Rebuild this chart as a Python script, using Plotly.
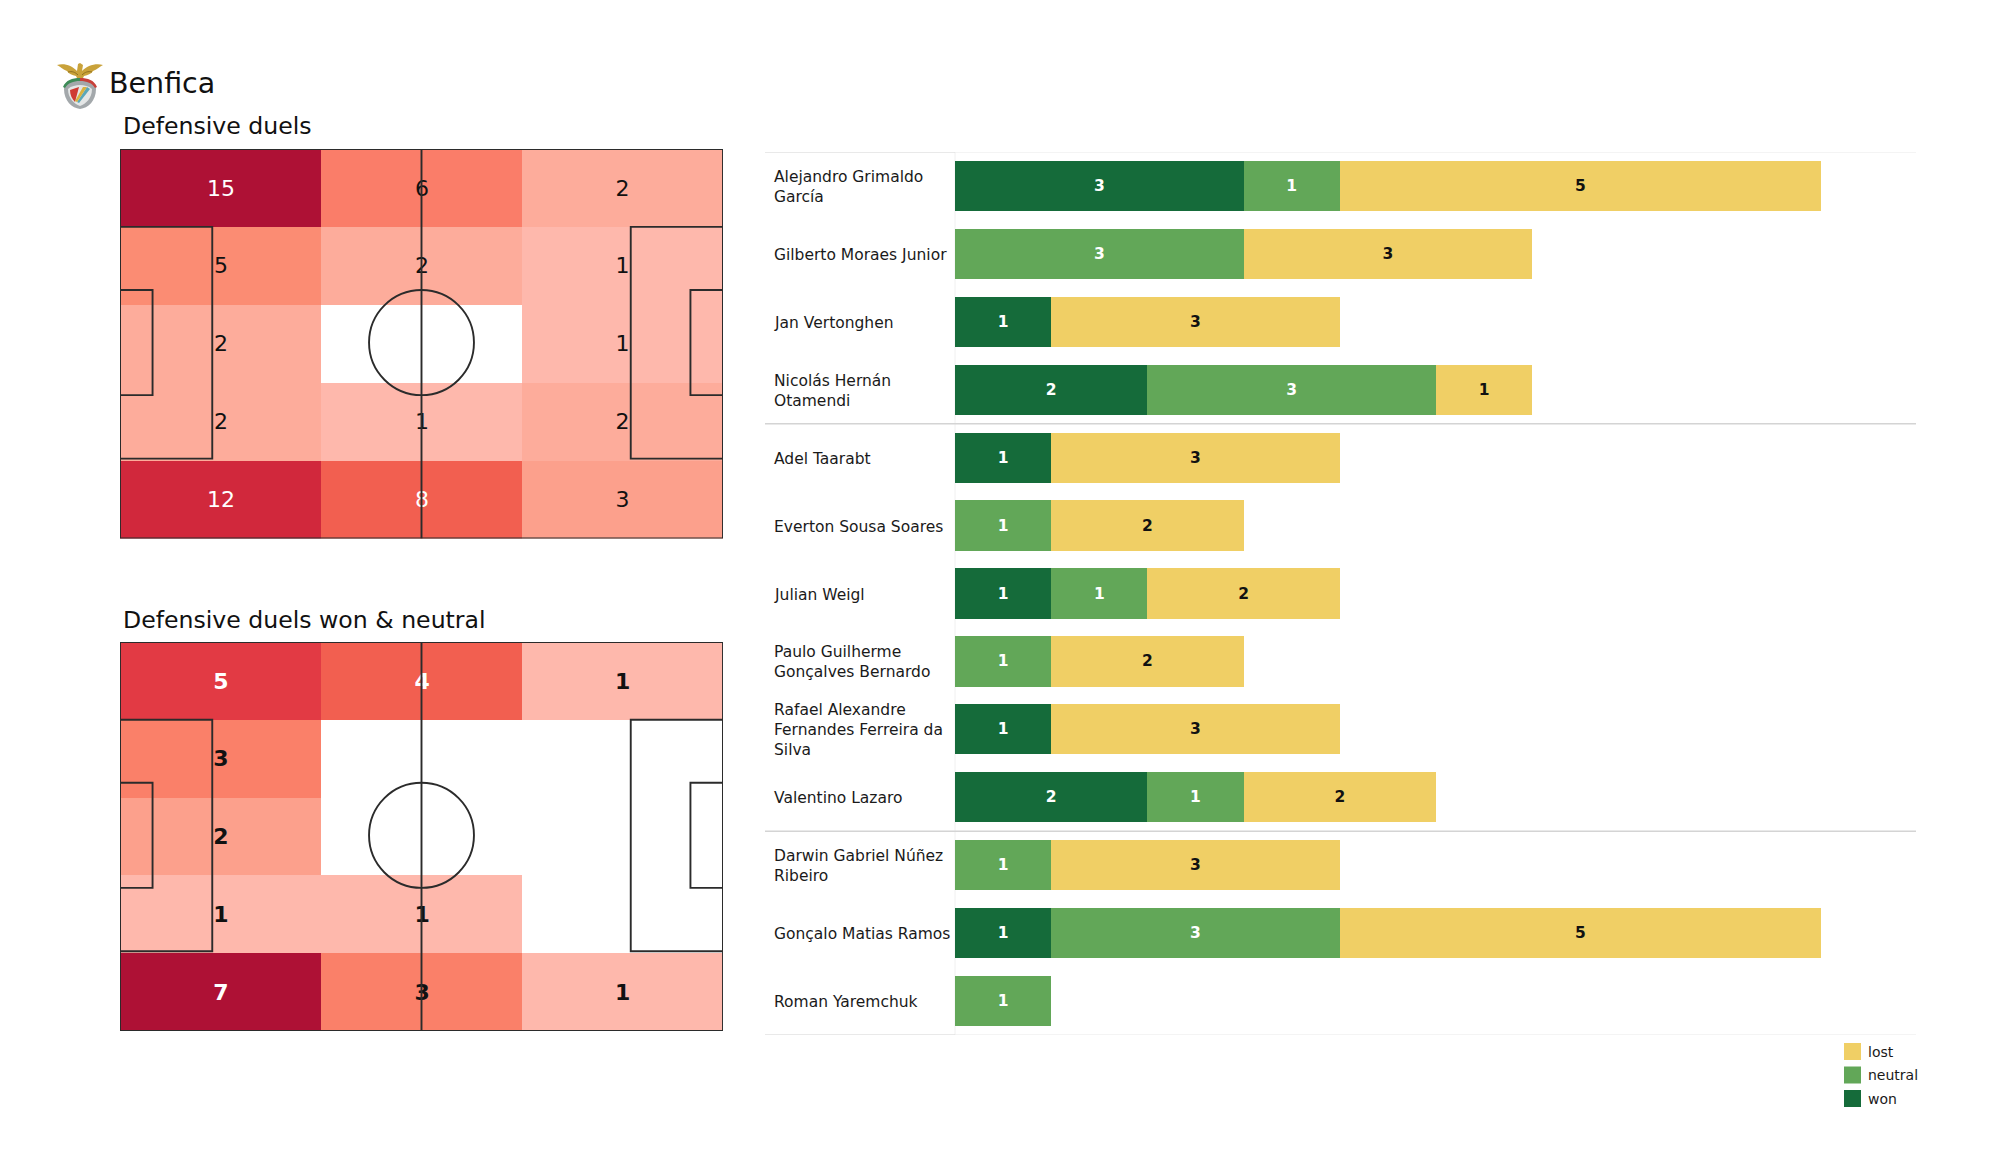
import base64
import plotly.graph_objects as go

W, H = 2000, 1175
FONT = "DejaVu Sans"

# ---- data ----
zone_x_edges = [0, 33.5, 66.7, 100]
zone_y_edges = [0, 20, 40, 60, 80, 100]
duels = [[15, 6, 2], [5, 2, 1], [2, 0, 1], [2, 1, 2], [12, 8, 3]]
duels_won_neutral = [[5, 4, 1], [3, 0, 0], [2, 0, 0], [1, 1, 0], [7, 3, 1]]
duels_scale_values = [0, 1, 2, 3, 5, 6, 8, 12, 15]
duels_scale_colors = ["#ffffff", "#feb8ac", "#fdac9b", "#fca08c", "#fb8c73", "#fa7d69", "#f25f50", "#d1283c", "#ae1135"]
won_scale_values = [0, 1, 2, 3, 4, 5, 7]
won_scale_colors = ["#ffffff", "#feb8ac", "#fca08c", "#fa8069", "#f25f50", "#e23a44", "#ae1135"]

players = [
    "Alejandro Grimaldo<br>García", "Gilberto Moraes Junior", "Jan Vertonghen",
    "Nicolás Hernán<br>Otamendi", "Adel Taarabt", "Everton Sousa Soares", "Julian Weigl",
    "Paulo Guilherme<br>Gonçalves Bernardo", "Rafael Alexandre<br>Fernandes Ferreira da<br>Silva",
    "Valentino Lazaro", "Darwin Gabriel Núñez<br>Ribeiro", "Gonçalo Matias Ramos", "Roman Yaremchuk",
]
won = [3, 0, 1, 2, 1, 0, 1, 0, 1, 2, 0, 1, 0]
neutral = [1, 3, 0, 3, 0, 1, 1, 1, 0, 1, 1, 3, 1]
lost = [5, 3, 3, 1, 3, 2, 2, 2, 3, 2, 3, 5, 0]
group_lines = [3.5, 9.5]
team = "Benfica"
title_top = "Defensive duels"
title_bottom = "Defensive duels won & neutral"
legend_labels = ["lost", "neutral", "won"]

C_WON, C_NEUTRAL, C_LOST = "#156b3a", "#62a758", "#f0cf65"
LINE = "#2b2b2b"


def px(x):
    return x / W


def py(y):
    return 1 - y / H


fig = go.Figure()


def pitch(z, values, colors, xa, ya, weight):
    zmax = max(values)
    fig.add_trace(go.Heatmap(
        z=z, x=zone_x_edges, y=zone_y_edges, xaxis=xa, yaxis=ya, zmin=0, zmax=zmax,
        colorscale=[[v / zmax, c] for v, c in zip(values, colors)],
        showscale=False, hoverinfo="skip",
    ))
    xs, ys, texts, cols = [], [], [], []
    for r, row in enumerate(z):
        for c, v in enumerate(row):
            if v:
                xs.append((zone_x_edges[c] + zone_x_edges[c + 1]) / 2)
                ys.append((zone_y_edges[r] + zone_y_edges[r + 1]) / 2 + 0.55)
                texts.append(str(v))
                cols.append("#ffffff" if v / zmax > 0.52 else "#111111")
    fig.add_trace(go.Scatter(
        x=xs, y=ys, text=texts, mode="text", xaxis=xa, yaxis=ya, showlegend=False, hoverinfo="skip",
        textposition="middle center",
        textfont=dict(family=FONT, size=22, color=cols, weight=weight),
    ))
    lw = dict(color=LINE, width=1.9)
    rects = [(0, 0, 100, 100), (0, 20, 15.3, 79.5), (0, 36.2, 5.4, 63.2), (84.7, 20, 100, 79.5), (94.6, 36.2, 100, 63.2)]
    for x0, y0, x1, y1 in rects:
        fig.add_shape(type="rect", xref=xa, yref=ya, x0=x0, y0=y0, x1=x1, y1=y1, line=lw, layer="above")
    fig.add_shape(type="line", xref=xa, yref=ya, x0=50, x1=50, y0=0, y1=100, line=lw, layer="above")
    fig.add_shape(type="circle", xref=xa, yref=ya, x0=41.3, x1=58.7, y0=36.2, y1=63.2, line=lw, layer="above")


pitch(duels, duels_scale_values, duels_scale_colors, "x", "y", "normal")
pitch(duels_won_neutral, won_scale_values, won_scale_colors, "x2", "y2", "bold")

# stacked bars
y_idx = list(range(len(players)))
for vals, color, txt, name in [(won, C_WON, "#ffffff", "won"), (neutral, C_NEUTRAL, "#ffffff", "neutral"), (lost, C_LOST, "#111111", "lost")]:
    fig.add_trace(go.Bar(
        x=vals, y=y_idx, orientation="h", xaxis="x3", yaxis="y3", width=0.74, name=name,
        marker=dict(color=color, line=dict(width=0)), showlegend=False, hoverinfo="skip",
        text=[str(v) if v else "" for v in vals], textposition="inside", insidetextanchor="middle",
        textangle=0, textfont=dict(family=FONT, size=15.5, color=txt, weight="bold"),
    ))

# row separators
for yv in (-0.5, 12.5):
    fig.add_shape(type="line", xref="paper", yref="y3", x0=px(765), x1=px(955), y0=yv, y1=yv, line=dict(color="#d4d4d4", width=1.2))
    fig.add_shape(type="line", xref="paper", yref="y3", x0=px(955), x1=px(1916), y0=yv, y1=yv, line=dict(color="#e9e9e9", width=1.2))
for yv in group_lines:
    fig.add_shape(type="line", xref="paper", yref="y3", x0=px(765), x1=px(1916), y0=yv, y1=yv, line=dict(color="#d4d4d4", width=1.5))
fig.add_shape(type="line", xref="paper", yref="y3", x0=px(955), x1=px(955), y0=-0.5, y1=12.5, line=dict(color="#f0f0f0", width=1), layer="below")

annotations = [
    dict(text=team, x=px(107), y=py(83.5), font=dict(size=28.5)),
    dict(text=title_top, x=px(121), y=py(125.5), font=dict(size=23.6)),
    dict(text=title_bottom, x=px(121), y=py(620), font=dict(size=23.6)),
]
for a in annotations:
    a.update(xref="paper", yref="paper", xanchor="left", yanchor="middle", showarrow=False)
    a["font"].update(family=FONT, color="#111111")
for i, name in enumerate(players):
    annotations.append(dict(
        text=name, x=px(771.5), y=i, xref="paper", yref="y3", xanchor="left", yanchor="middle", align="left",
        yshift=-1, showarrow=False, font=dict(family=FONT, size=15.5, color="#1a1a1a"),
    ))

# legend key
for i, (label, color) in enumerate(zip(legend_labels, [C_LOST, C_NEUTRAL, C_WON])):
    top = 1043 + i * 23.5
    fig.add_shape(type="rect", xref="paper", yref="paper", x0=px(1844), x1=px(1861), y0=py(top), y1=py(top + 17),
                  fillcolor=color, line=dict(width=0))
    annotations.append(dict(
        text=label, x=px(1866), y=py(top + 8.5), xref="paper", yref="paper", xanchor="left", yanchor="middle",
        showarrow=False, font=dict(family=FONT, size=14, color="#1a1a1a"),
    ))

svg = """<svg xmlns='http://www.w3.org/2000/svg' viewBox='0 0 56 52' width='224' height='208'>
<path d='M5 5 C13 3 20 6 25 11 L26 4 L28 3 L31 5 L30 11 C35 6 43 3 51 5 C46 8 44 10 41 11 C39 14 36 15 32 16 L30 20 L26 20 L24 16 C20 15 17 14 15 11 C12 10 10 8 5 5Z' fill='#c9a23a'/>
<path d='M16 12 C20 11 23 12 26 15 M40 12 C36 11 33 12 30 15' stroke='#8f6f1f' stroke-width='1' fill='none'/>
<path d='M12 29 C12 22 18 19 28 19 C38 19 44 22 44 29 C44 41 36 48 28 49 C20 48 12 41 12 29Z' fill='#a3a8ab'/>
<path d='M11 27 C14 20 20 18 28 18 L28 21 C21 21 16 23 13 28Z' fill='#3d8b57'/>
<path d='M45 27 C42 20 36 18 28 18 L28 21 C35 21 40 23 43 28Z' fill='#c8403a'/>
<path d='M16 29 C19 26 24 25 28 25 C32 25 37 26 40 29 C40 38 34 44 28 46 C22 44 16 38 16 29Z' fill='#e4e6e6'/>
<path d='M18 30 L27 27 L23 42 C20 39 18 35 18 30Z' fill='#cf3a32'/>
<path d='M35 27 L38 29 L27 43 L25 42Z' fill='#5aa7b8'/>
<path d='M31 27 L35 27 L25 42 L23 41Z' fill='#d9b23f'/>
</svg>"""

fig.update_layout(
    width=W, height=H, margin=dict(l=0, r=0, t=0, b=0), paper_bgcolor="white", plot_bgcolor="rgba(0,0,0,0)",
    barmode="stack", annotations=annotations, showlegend=False,
    font=dict(family=FONT),
    images=[dict(
        source="data:image/svg+xml;base64," + base64.b64encode(svg.encode()).decode(),
        xref="paper", yref="paper", x=px(52), y=py(60), sizex=px(56), sizey=52 / H,
        xanchor="left", yanchor="top", sizing="stretch", layer="above",
    )],
    xaxis=dict(domain=[px(120), px(723)], range=[0, 100], visible=False, fixedrange=True),
    yaxis=dict(domain=[py(538.5), py(149)], range=[100, 0], visible=False, fixedrange=True),
    xaxis2=dict(domain=[px(120), px(723)], range=[0, 100], visible=False, fixedrange=True),
    yaxis2=dict(domain=[py(1031), py(642)], range=[100, 0], visible=False, fixedrange=True),
    xaxis3=dict(domain=[px(955), px(1916)], range=[0, 9.99], visible=False, fixedrange=True),
    yaxis3=dict(domain=[py(1035), py(152)], range=[12.5, -0.5], visible=False, fixedrange=True),
)

fig.write_html("out.html", post_script="document.body.style.margin='0';", config={"displayModeBar": False})
